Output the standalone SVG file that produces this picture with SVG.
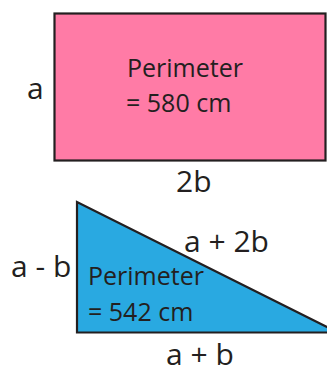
<svg xmlns="http://www.w3.org/2000/svg" width="327" height="367" viewBox="0 0 327 367">
<style>
.shape{stroke:#231f20;stroke-width:2.2;stroke-linejoin:miter}
.lbl{font-family:"Open Sans","Liberation Sans",sans-serif;font-size:30px;fill:#231f20}
.inner{font-family:"Open Sans","Liberation Sans",sans-serif;font-size:25px;fill:#231f20}
</style>
<rect width="327" height="367" fill="#ffffff"/>
<g id="rectangle">
<rect class="shape" x="54.5" y="13.5" width="271" height="147" fill="#ff7ba6"/>
<text class="inner" x="127" y="77">Perimeter</text>
<text class="inner" x="126" y="112">= 580 cm</text>
</g>
<g id="triangle">
<polygon class="shape" points="77,202 77,332.5 338,332.5" fill="#29a9e1"/>
<text class="inner" x="88" y="285">Perimeter</text>
<text class="inner" x="88" y="321">= 542 cm</text>
</g>
<g id="labels">
<text class="lbl" x="27" y="99">a</text>
<text class="lbl" x="176" y="192">2b</text>
<text class="lbl" x="11" y="277">a - b</text>
<text class="lbl" x="184" y="252">a + 2b</text>
<text class="lbl" x="166" y="365">a + b</text>
</g>
</svg>
